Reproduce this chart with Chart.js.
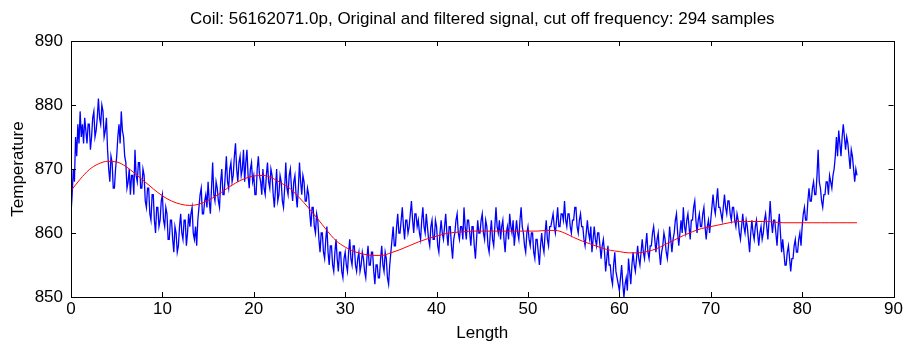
<!DOCTYPE html>
<html lang="en">
<head>
  <meta charset="utf-8" />
  <title>Coil 56162071.0p - original and filtered signal</title>
  <script src="https://cdn.jsdelivr.net/npm/chart.js@4.4.4/dist/chart.umd.min.js"></script>
  <style>
    body { margin: 0; background: #fff; }
    #chart { display: block; }
  </style>
</head>
<body>
  <canvas id="chart" width="905" height="342"></canvas>
  <script>
    // --- data ---
    const titleText = 'Coil: 56162071.0p, Original and filtered signal, cut off frequency: 294 samples';
    const xTicks = [0, 10, 20, 30, 40, 50, 60, 70, 80, 90];
    const yTicks = [850, 860, 870, 880, 890];

    // original signal, one value every 0.125 length units (one row per unit)
    const sampleStep = 0.125;
    const originalSignal = [
      863, 866, 870, 868, 875, 872, 877, 874,
      879, 875, 877, 874, 878, 876, 874, 877,
      877, 873, 875, 878, 879, 875, 876, 878,
      881, 878, 877, 880, 879, 875, 876, 878,
      873, 870, 868, 872, 871, 867, 867, 870,
      872, 875, 877, 874, 879, 876, 875, 872,
      871, 867, 868, 870, 866, 869, 869, 866,
      873, 869, 868, 871, 871, 867, 867, 870,
      869, 865, 864, 867, 867, 863, 862, 866,
      866, 862, 860, 864, 864, 861, 862, 865,
      866, 862, 861, 864, 863, 859, 859, 862,   // 10
      862, 859, 857, 861, 860, 857, 858, 861,
      863, 860, 859, 862, 862, 858, 860, 863,
      861, 863, 864, 860, 859, 861, 858, 862,
      864, 866, 867, 863, 863, 865, 866, 864,
      868, 865, 863, 867, 871, 866, 865, 868,
      867, 865, 864, 868, 870, 866, 866, 869,
      872, 868, 867, 870, 871, 868, 869, 872,
      874, 870, 868, 871, 872, 869, 870, 873,
      868, 871, 873, 869, 867, 870, 871, 868,
      869, 866, 866, 870, 872, 869, 868, 866,   // 20
      870, 867, 866, 869, 871, 868, 867, 870,
      869, 866, 864, 867, 870, 865, 866, 869,
      868, 865, 864, 867, 871, 867, 866, 869,
      870, 867, 865, 868, 869, 866, 864, 867,
      871, 868, 866, 869, 868, 865, 865, 867,
      866, 863, 861, 864, 864, 861, 860, 863,
      862, 859, 857, 860, 860, 857, 856, 859,
      861, 857, 855, 858, 858, 855, 854, 857,
      859, 856, 854, 857, 857, 854, 853, 856,
      857, 855, 854, 857, 859, 856, 855, 858,   // 30
      858, 855, 854, 856, 857, 854, 855, 857,
      856, 854, 853, 856, 858, 855, 855, 857,
      857, 854, 852, 855, 855, 853, 853, 856,
      858, 855, 854, 857, 856, 853, 852, 855,
      857, 859, 861, 858, 858, 861, 863, 860,
      860, 862, 864, 861, 859, 862, 862, 860,
      861, 863, 865, 862, 860, 863, 863, 861,
      862, 860, 859, 862, 864, 861, 860, 863,
      861, 859, 858, 861, 862, 859, 859, 862,
      861, 858, 857, 860, 862, 860, 859, 861,   // 40
      863, 860, 858, 861, 861, 858, 856, 859,
      860, 862, 863, 860, 859, 861, 861, 859,
      864, 861, 859, 862, 862, 860, 858, 861,
      861, 858, 856, 859, 862, 860, 860, 862,
      863, 860, 859, 862, 861, 858, 857, 860,
      862, 859, 858, 861, 864, 861, 860, 862,
      859, 861, 862, 859, 857, 860, 861, 859,
      863, 861, 860, 862, 858, 860, 862, 860,
      859, 862, 864, 861, 860, 858, 857, 860,
      861, 859, 858, 860, 860, 857, 856, 859,   // 50
      859, 857, 855, 858, 860, 858, 857, 860,
      862, 859, 858, 861, 861, 862, 863, 861,
      860, 862, 864, 861, 861, 863, 863, 862,
      865, 862, 861, 863, 863, 861, 860, 862,
      862, 864, 864, 861, 860, 862, 863, 861,
      861, 859, 858, 860, 862, 860, 859, 861,
      857, 859, 861, 859, 858, 860, 860, 858,
      856, 858, 859, 857, 854, 856, 858, 855,
      855, 853, 852, 855, 857, 854, 853, 852,
      851, 853, 855, 852, 850, 852, 853, 851,   // 60
      856, 854, 852, 855, 857, 855, 854, 856,
      858, 856, 855, 857, 859, 857, 856, 858,
      860, 857, 856, 858, 858, 860, 861, 859,
      857, 859, 860, 857, 855, 857, 858, 860,
      859, 857, 856, 858, 861, 859, 857, 859,
      860, 862, 863, 860, 858, 860, 862, 860,
      864, 861, 860, 862, 863, 861, 859, 862,
      862, 864, 865, 862, 860, 862, 863, 861,
      861, 863, 864, 861, 859, 861, 862, 860,
      862, 864, 866, 864, 863, 865, 867, 864,   // 70
      864, 863, 862, 864, 866, 864, 863, 865,
      865, 863, 862, 864, 864, 862, 861, 863,
      862, 860, 859, 861, 863, 861, 860, 862,
      861, 859, 857, 860, 862, 860, 859, 861,
      862, 860, 858, 860, 861, 859, 860, 862,
      863, 861, 859, 862, 865, 862, 860, 862,
      862, 860, 858, 861, 863, 860, 857, 859,
      857, 855, 855, 857, 858, 856, 854, 856,
      856, 858, 859, 857, 857, 859, 860, 858,
      861, 863, 864, 862, 862, 865, 867, 865,   // 80
      865, 867, 868, 866, 866, 869, 873, 868,
      867, 865, 864, 866, 866, 868, 868, 866,
      869, 868, 867, 869, 870, 872, 875, 872,
      876, 874, 872, 875, 877, 875, 873, 875,
      874, 872, 870, 873, 872, 870, 868, 870,
      869
    ];

    // filtered signal, one value per length unit
    const filteredStep = 1;
    const filteredSignal = [
      866.6, 868.4, 869.9, 870.8, 871.2, 871.1, 870.4, 869.3, 868.1, 866.9,
      865.8, 865.0, 864.5, 864.3, 864.5, 865.1, 865.9, 866.9, 867.8, 868.5,
      868.9, 869.0, 868.6, 867.8, 866.9, 865.5, 863.9, 862.2, 860.4, 858.8,
      857.8, 857.1, 856.7, 856.5, 856.5, 856.9, 857.4, 858.0, 858.6, 859.1,
      859.5, 859.9, 860.1, 860.2, 860.3, 860.3, 860.3, 860.3, 860.3, 860.3,
      860.3, 860.3, 860.4, 860.4, 860.0, 859.3, 858.7, 858.2, 857.7, 857.3,
      857.1, 856.9, 856.9, 857.1, 857.5, 858.2, 858.9, 859.6, 860.2, 860.7,
      861.0, 861.3, 861.6, 861.8, 861.8, 861.8, 861.8, 861.7, 861.6, 861.6,
      861.6, 861.6, 861.6, 861.6, 861.6, 861.6, 861.6
    ];

    const FONT = '"Liberation Sans", Arial, sans-serif';
    const FSIZE = 17;

    const toPoints = (vals, step) => vals.map((v, i) => ({ x: i * step, y: v }));

    // matlab-like box with inward ticks on all four sides + title centred on the axes
    const matlabAxes = {
      id: 'matlabAxes',
      afterDraw(chart) {
        const { ctx, chartArea: a, scales } = chart;
        const len = 5;
        ctx.save();
        ctx.strokeStyle = '#000';
        ctx.lineWidth = 1;
        ctx.beginPath();
        xTicks.forEach(t => {
          const px = Math.round(scales.x.getPixelForValue(t)) + 0.5;
          ctx.moveTo(px, a.bottom); ctx.lineTo(px, a.bottom - len);
          ctx.moveTo(px, a.top); ctx.lineTo(px, a.top + len);
        });
        yTicks.forEach(t => {
          const py = Math.round(scales.y.getPixelForValue(t)) + 0.5;
          ctx.moveTo(a.left, py); ctx.lineTo(a.left + len, py);
          ctx.moveTo(a.right, py); ctx.lineTo(a.right - len, py);
        });
        ctx.stroke();
        ctx.strokeRect(Math.round(a.left) + 0.5, Math.round(a.top) + 0.5,
                       Math.round(a.right - a.left), Math.round(a.bottom - a.top));

        ctx.fillStyle = '#000';
        ctx.font = FSIZE + 'px ' + FONT;
        ctx.textAlign = 'center';
        ctx.textBaseline = 'middle';
        ctx.fillText(titleText, (a.left + a.right) / 2, 19);
        ctx.restore();
      }
    };

    new Chart(document.getElementById('chart'), {
      type: 'line',
      data: {
        datasets: [
          {
            label: 'filtered',
            data: toPoints(filteredSignal, filteredStep),
            borderColor: '#ff0000',
            borderWidth: 1,
            pointRadius: 0,
            cubicInterpolationMode: 'monotone',
            order: 0
          },
          {
            label: 'original',
            data: toPoints(originalSignal, sampleStep),
            borderColor: '#0000ff',
            borderWidth: 1.3,
            pointRadius: 0,
            tension: 0,
            order: 1
          }
        ]
      },
      options: {
        responsive: false,
        animation: false,
        layout: { padding: { top: 41, right: 8, left: 0, bottom: 0 } },
        plugins: { legend: { display: false }, tooltip: { enabled: false }, title: { display: false } },
        scales: {
          x: {
            type: 'linear',
            min: 0, max: 90,
            afterBuildTicks: s => { s.ticks = xTicks.map(v => ({ value: v })); },
            afterFit: s => { s.height = 45; },
            grid: { display: false, drawTicks: false },
            border: { display: false },
            ticks: { color: '#000', font: { family: FONT, size: FSIZE }, padding: 2, maxRotation: 0 },
            title: { display: true, text: 'Length', color: '#000', font: { family: FONT, size: FSIZE }, padding: { top: 0, bottom: -2 } }
          },
          y: {
            min: 850, max: 890,
            afterBuildTicks: s => { s.ticks = yTicks.map(v => ({ value: v })); },
            afterFit: s => { s.width = 71; },
            grid: { display: false, drawTicks: false },
            border: { display: false },
            ticks: { color: '#000', font: { family: FONT, size: FSIZE }, padding: 8 },
            title: { display: true, text: 'Temperature', color: '#000', font: { family: FONT, size: FSIZE }, padding: { top: 8, bottom: 0 } }
          }
        }
      },
      plugins: [matlabAxes]
    });
  </script>
</body>
</html>
